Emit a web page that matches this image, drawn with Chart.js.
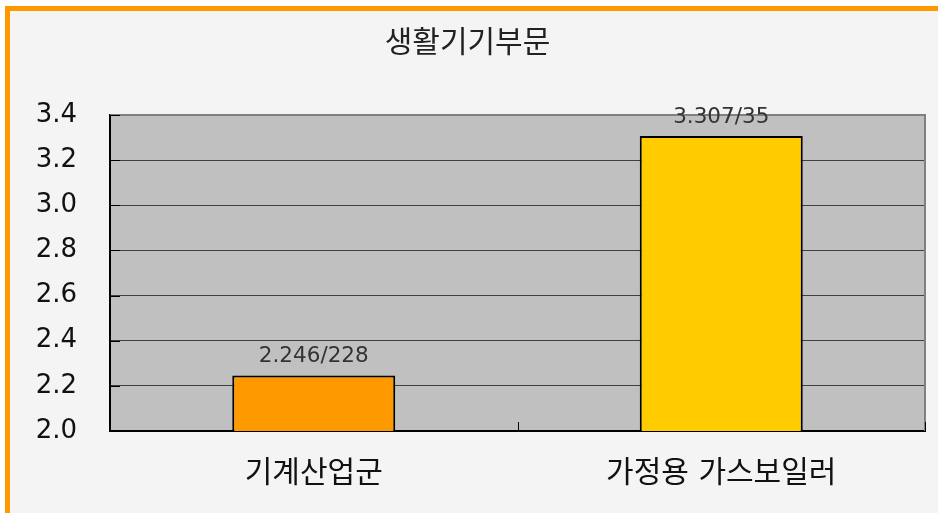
<!DOCTYPE html>
<html lang="ko">
<head>
<meta charset="utf-8">
<title>생활기기부문</title>
<script src="https://cdn.jsdelivr.net/npm/chart.js@4/dist/chart.umd.min.js"></script>
<style>
  html, body { margin: 0; padding: 0; background: #fff; }
  #frame {
    position: absolute; left: 5px; top: 6px;
    width: 933px; height: 507px;
    border-left: 5px solid #ff9900; border-top: 5px solid #ff9900;
    background: #f4f4f4;
  }
  #wrap { position: absolute; left: 0; top: 0; width: 928px; height: 502px; }
</style>
</head>
<body>
<div id="frame"><div id="wrap"><canvas id="chart"></canvas></div></div>
<script>
// 데이터
const categories = ['기계산업군', '가정용 가스보일러'];
const values = [2.246, 3.307];
const valueLabels = ['2.246/228', '3.307/35'];
const barColors = ['#ff9900', '#ffcc00'];
const yTicks = [2.0, 2.2, 2.4, 2.6, 2.8, 3.0, 3.2, 3.4];

const FONT = "'DejaVu Sans', 'Noto Sans CJK KR', sans-serif";

// 플롯 배경과 테두리, 안쪽 눈금
const plotFrame = {
  id: 'plotFrame',
  beforeDraw(chart) {
    const { ctx, chartArea: a } = chart;
    ctx.save();
    ctx.fillStyle = '#c0c0c0';
    ctx.fillRect(a.left, a.top, a.right - a.left, a.bottom - a.top);
    ctx.restore();
  },
  beforeDatasetsDraw(chart) {
    const { ctx, chartArea: a, scales } = chart;
    ctx.save();
    ctx.strokeStyle = '#808080';
    ctx.lineWidth = 2;
    ctx.beginPath();
    ctx.moveTo(a.left, a.top);
    ctx.lineTo(a.right, a.top);
    ctx.lineTo(a.right, a.bottom);
    ctx.stroke();
    // 안쪽 눈금
    ctx.strokeStyle = '#000';
    ctx.lineWidth = 1;
    ctx.beginPath();
    yTicks.forEach(t => {
      const y = Math.round(scales.y.getPixelForValue(t)) + 0.5;
      ctx.moveTo(a.left, y);
      ctx.lineTo(a.left + 10, y);
    });
    for (let i = 0; i <= categories.length; i++) {
      const x = Math.round(scales.x.getPixelForValue(i - 0.5)) + 0.5;
      ctx.moveTo(x, a.bottom);
      ctx.lineTo(x, a.bottom - 9);
    }
    ctx.stroke();
    ctx.restore();
  }
};

// 막대 위 값 표시
const barLabels = {
  id: 'barLabels',
  afterDatasetsDraw(chart) {
    const { ctx } = chart;
    const meta = chart.getDatasetMeta(0);
    ctx.save();
    ctx.font = '21.5px ' + FONT;
    ctx.fillStyle = '#333';
    ctx.textAlign = 'center';
    ctx.textBaseline = 'alphabetic';
    meta.data.forEach((bar, i) => {
      ctx.fillText(valueLabels[i], bar.x, bar.y - 13);
    });
    ctx.restore();
  }
};

new Chart(document.getElementById('chart'), {
  type: 'bar',
  data: {
    labels: categories,
    datasets: [{
      data: values,
      backgroundColor: barColors,
      borderColor: '#000',
      borderWidth: 2,
      categoryPercentage: 1,
      barPercentage: 0.4
    }]
  },
  options: {
    responsive: true,
    maintainAspectRatio: false,
    animation: false,
    layout: { padding: { left: 0, right: 13, top: 0, bottom: 0 } },
    plugins: {
      legend: { display: false },
      tooltip: { enabled: false },
      title: {
        display: true,
        text: '생활기기부문',
        color: '#222',
        font: { family: FONT, size: 30, weight: 'normal' },
        padding: { top: 15, bottom: 53 }
      }
    },
    scales: {
      x: {
        grid: { display: false, drawTicks: false },
        border: { color: '#000', width: 2 },
        ticks: {
          color: '#111',
          padding: 25,
          font: { family: FONT, size: 30 }
        },
        afterFit(scale) { scale.height = 82; }
      },
      y: {
        min: 2.0,
        max: 3.4,
        grid: { color: '#404040', lineWidth: 1, drawTicks: false },
        border: { color: '#000', width: 2 },
        ticks: {
          stepSize: 0.2,
          color: '#111',
          padding: 33,
          font: { family: FONT, size: 26 },
          callback: v => Number(v).toFixed(1)
        },
        afterFit(scale) { scale.width = 100; }
      }
    }
  },
  plugins: [plotFrame, barLabels]
});
</script>
</body>
</html>
